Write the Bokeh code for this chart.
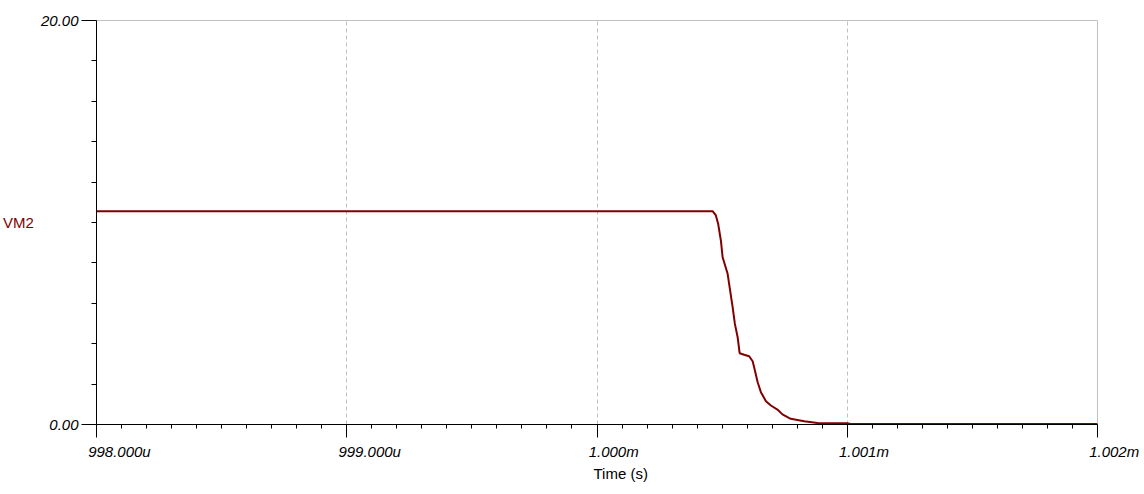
from bokeh.plotting import figure
from bokeh.models import Range1d, FixedTicker, Title, LinearAxis
from bokeh.embed import file_html
from bokeh.resources import INLINE

# time in microseconds, voltage VM2
t_us = [998.0, 1000.462, 1000.475, 1000.484, 1000.495, 1000.502, 1000.512, 1000.522,
        1000.532, 1000.542, 1000.551, 1000.562, 1000.570, 1000.588, 1000.608, 1000.622,
        1000.631, 1000.642, 1000.655, 1000.675, 1000.695, 1000.721, 1000.741, 1000.774,
        1000.828, 1000.881, 1001.0, 1001.014, 1002.0]
vm2 = [10.56, 10.56, 10.35, 9.94, 9.11, 8.28, 7.87, 7.46,
       6.63, 5.81, 4.98, 4.32, 3.53, 3.45, 3.38, 3.13,
       2.67, 2.09, 1.60, 1.15, 0.94, 0.74, 0.50, 0.28,
       0.16, 0.08, 0.06, 0.03, 0.03]

x_ticks = [998.0, 999.0, 1000.0, 1001.0, 1002.0]
x_tick_labels = ["998.000u", "999.000u", "1.000m", "1.001m", "1.002m"]
x_mid_ticks = [998.5, 999.5, 1000.5, 1001.5]
x_minor = [998 + i * 0.1 for i in range(41)]
y_ticks = [0.0, 20.0]
y_tick_labels = ["0.00", "20.00"]
y_minor = [2, 4, 6, 8, 10, 12, 14, 16, 18]
grid_x = [999.0, 1000.0, 1001.0]

FONT = "Liberation Sans"
FS = 15
W, H = 1144, 494
FRAME_L, FRAME_R, FRAME_T, FRAME_B = 95, 1097, 20, 424

# Tick labels start ~8px left of their tick: centre-aligned labels are padded
# on the left with no-break spaces so the visible text begins there.
_cw = {c: 0.556 for c in "0123456789u"}
_cw.update({".": 0.278, "m": 0.833})
NBSP_W = 0.278 * FS


def padded(label, lead=8):
    w = sum(_cw.get(c, 0.556) for c in label) * FS
    n = max(0, round((w - 2 * lead) / NBSP_W))
    return "\u00a0" * n + label


p = figure(width=W, height=H, output_backend="svg", toolbar_location=None,
           x_range=Range1d(998, 1002), y_range=Range1d(0, 20),
           min_border_left=FRAME_L, min_border_right=W - FRAME_R,
           min_border_top=FRAME_T, min_border_bottom=H - FRAME_B)
p.background_fill_color = "white"
p.border_fill_color = "white"
p.outline_line_color = "#c0c0c0"
p.outline_line_width = 1

# x axis
xa = p.xaxis[0]
xa.ticker = FixedTicker(ticks=x_ticks, minor_ticks=x_minor)
xa.major_label_overrides = {t: padded(s) for t, s in zip(x_ticks, x_tick_labels)}
xa.major_label_text_font = FONT
xa.major_label_text_font_style = "italic"
xa.major_label_text_font_size = f"{FS}px"
xa.major_label_text_color = "black"
xa.major_label_standoff = 5
xa.major_tick_out = 13
xa.major_tick_in = 0
xa.minor_tick_out = 4
xa.minor_tick_in = 0
xa.axis_line_color = "black"
xa.major_tick_line_color = "black"
xa.minor_tick_line_color = "black"

# medium ticks at the half-microsecond marks, drawn on the bottom edge
xm = LinearAxis(fixed_location=0, ticker=FixedTicker(ticks=x_mid_ticks, minor_ticks=[]),
                major_label_overrides={t: "" for t in x_mid_ticks},
                major_label_text_font_size="0px",
                major_tick_out=8, major_tick_in=0, minor_tick_out=0, minor_tick_in=0,
                axis_line_color=None, major_tick_line_color="black",
                minor_tick_line_color=None)
p.add_layout(xm, "below")

# x title
p.add_layout(Title(text="Time (s)", align="left", offset=497, text_font=FONT,
                   text_font_size=f"{FS}px", text_font_style="normal", text_color="black",
                   standoff=0), "below")

# y axis
ya = p.yaxis[0]
ya.ticker = FixedTicker(ticks=y_ticks, minor_ticks=y_minor)
ya.major_label_overrides = dict(zip(y_ticks, y_tick_labels))
ya.major_label_text_font = FONT
ya.major_label_text_font_style = "italic"
ya.major_label_text_font_size = f"{FS}px"
ya.major_label_text_color = "black"
ya.major_label_standoff = 3
ya.major_tick_out = 15
ya.major_tick_in = 0
ya.minor_tick_out = 5
ya.minor_tick_in = 0
ya.axis_line_color = "black"
ya.axis_label = "VM2"
ya.axis_label_orientation = "horizontal"
ya.axis_label_text_font = FONT
ya.axis_label_text_font_style = "normal"
ya.axis_label_text_font_size = f"{FS}px"
ya.axis_label_text_color = "#800000"
ya.axis_label_standoff = 4

# grids
p.xgrid.ticker = FixedTicker(ticks=grid_x)
p.xgrid.grid_line_color = "#c0c0c0"
p.xgrid.grid_line_dash = "4 3"
p.xgrid.grid_line_width = 1
p.ygrid.grid_line_color = None

# data line
p.line(t_us, vm2, line_color="#800000", line_width=2)

open("out.html", "w").write(file_html(p, INLINE))
